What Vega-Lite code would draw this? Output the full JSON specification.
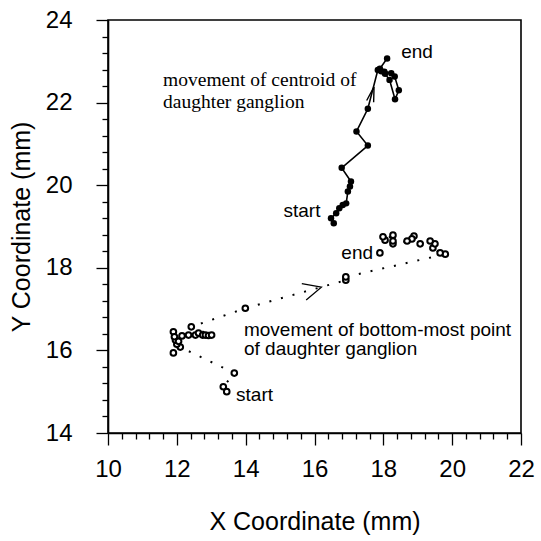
{
  "$schema": "https://vega.github.io/schema/vega-lite/v6.json",
  "width": 413,
  "height": 413,
  "autosize": {"type": "none"},
  "padding": {"left": 108, "top": 20, "right": 20, "bottom": 108},
  "background": "white",
  "config": {
    "view": {"stroke": "black", "strokeWidth": 1.6},
    "font": "Liberation Sans",
    "axis": {
      "grid": false,
      "domainColor": "black",
      "domainWidth": 1.6,
      "tickColor": "black",
      "tickWidth": 1.3,
      "labelFont": "Liberation Sans",
      "labelFontSize": 24,
      "labelColor": "black",
      "titleFont": "Liberation Sans",
      "titleFontSize": 25,
      "titleFontWeight": "normal",
      "titleColor": "black",
      "labelOverlap": false,
      "labelFlush": false,
      "labelBound": false
    }
  },
  "datasets": {
    "centroid": [
      {"step": 1, "x": 16.56, "y": 19.08},
      {"step": 2, "x": 16.48, "y": 19.20},
      {"step": 3, "x": 16.63, "y": 19.32},
      {"step": 4, "x": 16.72, "y": 19.44},
      {"step": 5, "x": 16.82, "y": 19.52},
      {"step": 6, "x": 16.92, "y": 19.56},
      {"step": 7, "x": 16.97, "y": 19.85},
      {"step": 8, "x": 17.03, "y": 19.97},
      {"step": 9, "x": 17.06, "y": 20.09},
      {"step": 10, "x": 16.79, "y": 20.42},
      {"step": 11, "x": 17.55, "y": 20.96},
      {"step": 12, "x": 17.22, "y": 21.30},
      {"step": 13, "x": 17.55, "y": 21.85},
      {"step": 14, "x": 17.84, "y": 22.79},
      {"step": 15, "x": 17.94, "y": 22.76},
      {"step": 16, "x": 18.03, "y": 22.75},
      {"step": 17, "x": 18.23, "y": 22.71},
      {"step": 18, "x": 18.33, "y": 22.63},
      {"step": 19, "x": 18.45, "y": 22.30},
      {"step": 20, "x": 18.34, "y": 22.08},
      {"step": 21, "x": 18.18, "y": 22.55},
      {"step": 22, "x": 18.05, "y": 22.70},
      {"step": 23, "x": 17.90, "y": 22.82},
      {"step": 24, "x": 18.11, "y": 23.07}
    ],
    "bottom": [
      {"step": 1, "x": 13.45, "y": 15.00},
      {"step": 2, "x": 13.35, "y": 15.12},
      {"step": 3, "x": 13.67, "y": 15.45},
      {"step": 4, "x": 12.10, "y": 16.08},
      {"step": 5, "x": 12.00, "y": 16.15},
      {"step": 6, "x": 11.96, "y": 16.25},
      {"step": 7, "x": 11.90, "y": 16.45},
      {"step": 8, "x": 11.93, "y": 16.33},
      {"step": 9, "x": 11.90, "y": 15.94},
      {"step": 10, "x": 12.05, "y": 16.22},
      {"step": 11, "x": 12.15, "y": 16.35},
      {"step": 12, "x": 12.34, "y": 16.37},
      {"step": 13, "x": 12.54, "y": 16.37},
      {"step": 14, "x": 12.63, "y": 16.42},
      {"step": 15, "x": 12.75, "y": 16.37},
      {"step": 16, "x": 12.83, "y": 16.37},
      {"step": 17, "x": 12.92, "y": 16.36},
      {"step": 18, "x": 13.01, "y": 16.37},
      {"step": 19, "x": 12.42, "y": 16.57},
      {"step": 20, "x": 13.99, "y": 17.02},
      {"step": 21, "x": 16.91, "y": 17.70},
      {"step": 22, "x": 16.91, "y": 17.78},
      {"step": 23, "x": 19.80, "y": 18.33},
      {"step": 24, "x": 19.65, "y": 18.36},
      {"step": 25, "x": 19.44, "y": 18.48},
      {"step": 26, "x": 19.50, "y": 18.58},
      {"step": 27, "x": 19.36, "y": 18.65},
      {"step": 28, "x": 19.07, "y": 18.58},
      {"step": 29, "x": 18.89, "y": 18.77},
      {"step": 30, "x": 18.83, "y": 18.70},
      {"step": 31, "x": 18.69, "y": 18.65},
      {"step": 32, "x": 18.28, "y": 18.58},
      {"step": 33, "x": 18.28, "y": 18.65},
      {"step": 34, "x": 18.28, "y": 18.79},
      {"step": 35, "x": 18.05, "y": 18.67},
      {"step": 36, "x": 17.99, "y": 18.75},
      {"step": 37, "x": 17.90, "y": 18.36}
    ],
    "serifLabels": [
      {"label": "movement of centroid of\ndaughter ganglion", "x": 11.6, "y": 22.4}
    ],
    "sansLabels": [
      {"label": "start", "x": 15.10, "y": 19.23},
      {"label": "end", "x": 18.52, "y": 23.07},
      {"label": "end", "x": 16.78, "y": 18.22},
      {"label": "movement of bottom-most point\nof daughter ganglion", "x": 13.95, "y": 16.36},
      {"label": "start", "x": 13.72, "y": 14.78}
    ],
    "arrowUp": [{"x": 17.73, "y": 22.38}],
    "arrowRight": [{"x": 16.2, "y": 17.53}]
  },
  "layer": [
    {
      "data": {"name": "centroid"},
      "mark": {"type": "line", "color": "black", "strokeWidth": 1.6},
      "encoding": {
        "x": {
          "field": "x", "type": "quantitative",
          "scale": {"domain": [10, 22], "nice": false, "zero": false},
          "axis": {
            "title": "X Coordinate (mm)",
            "values": [10, 10.4, 10.8, 11.2, 11.6, 12, 12.4, 12.8, 13.2, 13.6, 14, 14.4, 14.8, 15.2, 15.6, 16, 16.4, 16.8, 17.2, 17.6, 18, 18.4, 18.8, 19.2, 19.6, 20, 20.4, 20.8, 21.2, 21.6, 22],
            "tickCount": 100,
            "tickSize": {"condition": {"test": "datum.value % 2 == 0", "value": 12}, "value": 6},
            "labelExpr": "datum.value % 2 == 0 ? '' + datum.value : ''",
            "labelPadding": 12,
            "titlePadding": 28
          }
        },
        "y": {
          "field": "y", "type": "quantitative",
          "scale": {"domain": [14, 24], "nice": false, "zero": false},
          "axis": {
            "title": "Y Coordinate  (mm)",
            "values": [14, 14.4, 14.8, 15.2, 15.6, 16, 16.4, 16.8, 17.2, 17.6, 18, 18.4, 18.8, 19.2, 19.6, 20, 20.4, 20.8, 21.2, 21.6, 22, 22.4, 22.8, 23.2, 23.6, 24],
            "tickCount": 100,
            "tickSize": {"condition": {"test": "datum.value % 2 == 0", "value": 12}, "value": 6},
            "labelExpr": "datum.value % 2 == 0 ? '' + datum.value : ''",
            "labelPadding": 24,
            "titlePadding": 11
          }
        },
        "order": {"field": "step", "type": "quantitative"}
      }
    },
    {
      "data": {"name": "centroid"},
      "mark": {"type": "point", "filled": true, "color": "black", "size": 42, "opacity": 1},
      "encoding": {
        "x": {"field": "x", "type": "quantitative"},
        "y": {"field": "y", "type": "quantitative"}
      }
    },
    {
      "data": {"name": "bottom"},
      "mark": {"type": "line", "color": "black", "strokeWidth": 2, "strokeDash": [2, 10]},
      "encoding": {
        "x": {"field": "x", "type": "quantitative"},
        "y": {"field": "y", "type": "quantitative"},
        "order": {"field": "step", "type": "quantitative"}
      }
    },
    {
      "data": {"name": "bottom"},
      "mark": {"type": "point", "filled": true, "fill": "white", "stroke": "black", "strokeWidth": 2, "size": 32, "opacity": 1},
      "encoding": {
        "x": {"field": "x", "type": "quantitative"},
        "y": {"field": "y", "type": "quantitative"}
      }
    },
    {
      "data": {"name": "arrowUp"},
      "mark": {"type": "point", "shape": "M-1,-0.24L0,0L-1,0.24", "filled": false, "stroke": "black", "strokeWidth": 1.4, "size": 900, "angle": -75, "opacity": 1},
      "encoding": {
        "x": {"field": "x", "type": "quantitative"},
        "y": {"field": "y", "type": "quantitative"}
      }
    },
    {
      "data": {"name": "arrowRight"},
      "mark": {"type": "point", "shape": "M-1,-0.47L0,0L-1,0.47", "filled": false, "stroke": "black", "strokeWidth": 1.3, "size": 1296, "angle": -15, "opacity": 1},
      "encoding": {
        "x": {"field": "x", "type": "quantitative"},
        "y": {"field": "y", "type": "quantitative"}
      }
    },
    {
      "data": {"name": "serifLabels"},
      "mark": {"type": "text", "align": "left", "baseline": "alphabetic", "font": "Liberation Serif", "fontSize": 19.5, "lineBreak": "\n", "lineHeight": 22, "color": "black"},
      "encoding": {
        "x": {"field": "x", "type": "quantitative"},
        "y": {"field": "y", "type": "quantitative"},
        "text": {"field": "label"}
      }
    },
    {
      "data": {"name": "sansLabels"},
      "mark": {"type": "text", "align": "left", "baseline": "alphabetic", "font": "Liberation Sans", "fontSize": 19, "lineBreak": "\n", "lineHeight": 19, "color": "black"},
      "encoding": {
        "x": {"field": "x", "type": "quantitative"},
        "y": {"field": "y", "type": "quantitative"},
        "text": {"field": "label"}
      }
    }
  ]
}
